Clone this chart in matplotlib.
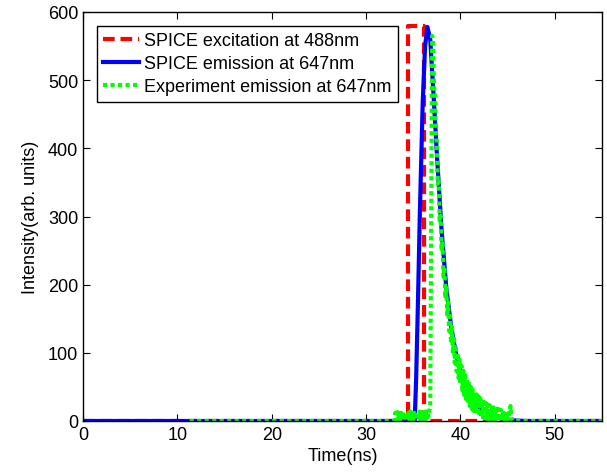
import matplotlib
matplotlib.use('Agg')
import matplotlib.pyplot as plt

plt.rcParams['font.family'] = ['Liberation Sans', 'DejaVu Sans']

# SPICE excitation pulse at 488nm
exc_t = [0, 34.45, 34.45, 36.15, 36.15, 55]
exc_v = [0, 0, 580, 580, 0, 0]

# SPICE emission at 647nm
emi_t = [0, 35.15, 35.3, 35.5, 35.7, 36.0, 36.25, 36.5, 36.8, 37.1, 37.55, 38.0,
         38.5, 39.0, 39.5, 40.0, 40.5, 41.0, 41.5, 42.0, 42.5, 43.0, 43.5, 44.0,
         44.5, 45.0, 46.0, 47.0, 55]
emi_v = [0, 0, 60, 177, 307, 467, 550, 578, 560, 490, 380, 280,
         195, 140, 100, 72, 52, 37, 27, 20, 14, 10, 7, 5,
         3, 2, 0.5, 0, 0]

# experiment emission at 647nm
base_t = [11.3, 32.9]
base_v = [0, 0]
pre_t = [33.0, 33.1, 33.2, 33.3, 33.4, 33.5, 33.6, 33.7, 33.8, 33.9, 34.0, 34.1,
         34.2, 34.3, 34.4, 34.5, 34.6, 34.7, 34.8, 34.9, 35.0, 35.1, 35.2, 35.3,
         35.4, 35.5, 35.6, 35.7, 35.8, 35.9, 36.0, 36.1, 36.2, 36.3, 36.4, 36.5,
         36.6, 36.7, 36.8, 36.9, 37.0]
pre_v = [2, 12, 1, 13, 3, 11, 0, 12, 4, 14, 2, 11,
         1, 13, 3, 12, 2, 14, 4, 11, 1, 12, 3, 13,
         2, 11, 4, 14, 1, 12, 3, 13, 2, 14, 4, 12,
         6, 16, 24, 290, 565]
dec_t = [37.1, 37.2, 37.3, 37.4, 37.5, 37.6, 37.7, 37.8, 37.9, 38.0, 38.1, 38.2,
         38.3, 38.4, 38.5, 38.6, 38.7, 38.8, 38.9, 39.0, 39.1, 39.2, 39.3, 39.4,
         39.5, 39.6, 39.7, 39.8, 39.9, 40.0, 40.1, 40.2, 40.3, 40.4, 40.5, 40.6,
         40.7, 40.8, 40.9, 41.0, 41.1, 41.2, 41.3, 41.4, 41.5, 41.6, 41.7, 41.8,
         41.9, 42.0, 42.1, 42.2, 42.3, 42.4, 42.5, 42.6, 42.7, 42.8, 42.9, 43.0,
         43.1, 43.2, 43.3, 43.4, 43.5, 43.6, 43.7, 43.8, 43.9, 44.0, 44.1, 44.2,
         44.3, 44.4, 44.5, 44.6, 44.7, 44.8, 44.9, 45.0, 45.1, 45.2, 45.3, 45.4,
         45.5]
dec_v = [555, 488, 485, 414, 412, 348, 351, 294, 301, 249, 261, 212,
         226, 180, 198, 154, 174, 132, 154, 114, 138, 99, 124, 85,
         111, 73, 100, 63, 90, 54, 81, 45, 74, 38, 67, 32,
         61, 27, 55, 22, 50, 18, 46, 15, 42, 12, 39, 9,
         36, 7, 33, 6, 30, 5, 28, 4, 26, 3, 24, 2,
         23, 2, 21, 1, 20, 1, 19, 0, 18, 1, 17, 0,
         16, 1, 15, 0, 14, 1, 13, 0, 12, 10, 22, 8,
         0]
post_t = [45.6, 55]
post_v = [0, 0]

exp_t = base_t + pre_t + dec_t + post_t
exp_v = base_v + pre_v + dec_v + post_v

fig = plt.figure(figsize=(6.07, 4.77), dpi=100)
ax = fig.add_axes([83 / 607, 55 / 477, 519 / 607, 409 / 477])

ax.plot(exc_t, exc_v, color='#ff0000', linestyle=(0, (2.8, 1.4)), linewidth=3,
        label='SPICE excitation at 488nm')
ax.plot(emi_t, emi_v, color='#0000ff', linestyle='-', linewidth=3,
        label='SPICE emission at 647nm')
ax.plot(exp_t, exp_v, color='#00ff00', linestyle=(0, (1, 0.8)), linewidth=3,
        label='Experiment emission at 647nm')

ax.set_xlim(0, 55)
ax.set_ylim(0, 600)
ax.set_xticks([0, 10, 20, 30, 40, 50])
ax.set_yticks([0, 100, 200, 300, 400, 500, 600])
ax.tick_params(direction='in', top=True, right=True, length=5, labelsize=13)
for s in ax.spines.values():
    s.set_linewidth(1)
ax.set_xlabel('Time(ns)', fontsize=13, labelpad=3)
ax.set_ylabel('Intensity(arb. units)', fontsize=13, labelpad=6)

leg = ax.legend(loc='upper left', fontsize=13, fancybox=False, framealpha=1,
                edgecolor='black', handlelength=2.0, borderaxespad=0.75,
                labelspacing=0.35, handletextpad=0.3, borderpad=0.35)
leg.get_frame().set_linewidth(1)

fig.savefig('out.png', dpi=100)
